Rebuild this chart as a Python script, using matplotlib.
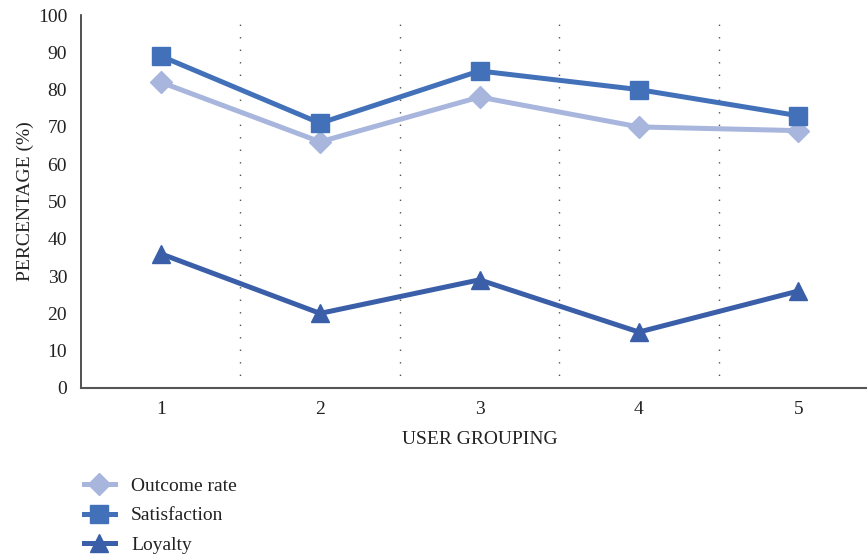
import matplotlib
matplotlib.use("Agg")
import matplotlib.pyplot as plt

groups = [1, 2, 3, 4, 5]
outcome_rate = [82, 66, 78, 70, 69]
satisfaction = [89, 71, 85, 80, 73]
loyalty = [36, 20, 29, 15, 26]
y_ticks = [0, 10, 20, 30, 40, 50, 60, 70, 80, 90, 100]

plt.rcParams['font.family'] = ['Liberation Serif', 'DejaVu Serif']

fig = plt.figure(figsize=(8.67, 5.59), dpi=100)
ax = fig.add_axes([81 / 867, 171 / 559, 797 / 867, 373 / 559])

c_outcome = '#A8B6DE'
c_sat = '#4271BA'
c_loy = '#3A5FA8'

# category separators
for b in [1.5, 2.5, 3.5, 4.5]:
    ax.axvline(b, color='#555555', lw=1.0, linestyle=(0, (1, 8)), zorder=1)

ax.plot(groups, outcome_rate, color=c_outcome, lw=3.6, marker='D', ms=11,
        label='Outcome rate', zorder=3)
ax.plot(groups, satisfaction, color=c_sat, lw=3.6, marker='s', ms=13,
        label='Satisfaction', zorder=4)
ax.plot(groups, loyalty, color=c_loy, lw=3.6, marker='^', ms=13,
        label='Loyalty', zorder=3)

ax.set_xlim(0.5, 5.5)
ax.set_ylim(0, 100)
ax.set_yticks(y_ticks)
ax.set_xticks(groups)
ax.tick_params(axis='both', length=0, labelsize=14, colors='#222222', pad=10)
ax.tick_params(axis='x', pad=9)

for s in ['top', 'right']:
    ax.spines[s].set_visible(False)
ax.spines['left'].set_color('#333333')
ax.spines['bottom'].set_color('#555555')
ax.spines['left'].set_linewidth(1.2)
ax.spines['bottom'].set_linewidth(1.5)

ax.set_xlabel('USER GROUPING', fontsize=14, color='#222222', labelpad=10)
ax.set_ylabel('PERCENTAGE (%)', fontsize=14, color='#222222', labelpad=3)

handles, labels = ax.get_legend_handles_labels()
fig.legend(handles, labels, loc='upper left', bbox_to_anchor=(66 / 867, 1 - 460 / 559),
           frameon=False, fontsize=14, labelspacing=0.6, handlelength=1.6,
           handletextpad=0.85, labelcolor='#222222')

fig.savefig('out.png', dpi=100)
